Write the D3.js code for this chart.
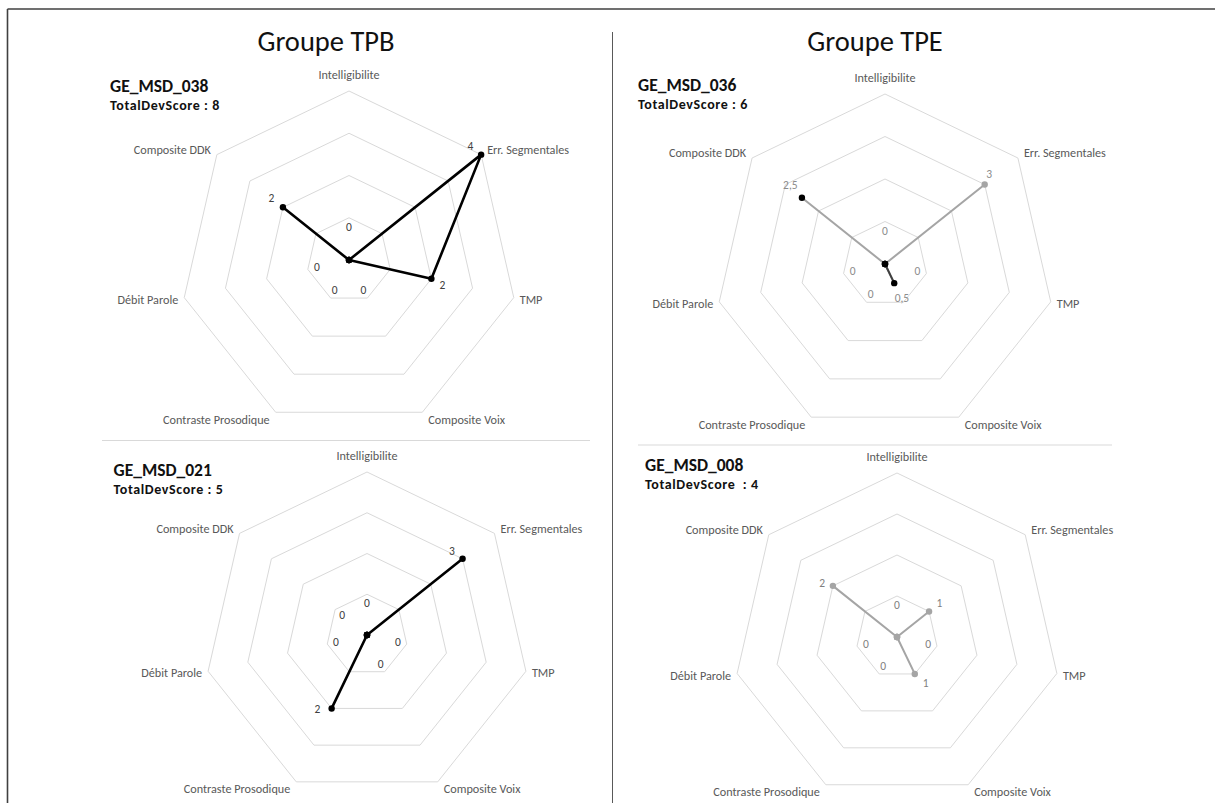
<!DOCTYPE html>
<html>
<head>
<meta charset="utf-8">
<script src="https://cdn.jsdelivr.net/npm/d3@7"></script>
<style>
  body { margin: 0; background: #fff; }
  text { font-family: Carlito, Calibri, Lato, sans-serif; }
</style>
</head>
<body>
<div id="chart"></div>
<script>
// axis names, clockwise from the top
var axes = ["Intelligibilite", "Err. Segmentales", "TMP", "Composite Voix", "Contraste Prosodique", "Débit Parole", "Composite DDK"];
var groups = ["Groupe TPB", "Groupe TPE"];
var subjects = ["GE_MSD_038", "GE_MSD_036", "GE_MSD_021", "GE_MSD_008"];
var scoreLabels = ["TotalDevScore : 8", "TotalDevScore : 6", "TotalDevScore : 5", "TotalDevScore  : 4"];
var values038 = [0, 4, 2, 0, 0, 0, 2];
var values036 = [0, 3, 0, 0.5, 0, 0, 2.5];
var values021 = [0, 3, 0, 0, 2, 0, 0];
var values008 = [0, 1, 0, 1, 0, 0, 2];
var rings = [1, 2, 3, 4];

var W = 1215, H = 803;
var BLACK = "#000", GREY = "#a5a5a5";

// layout / look of each panel
var panels = [
  {values: values038, cx: 349, cy: 260, r: 169, hx: 110, hy: 87, line: BLACK, lw: 2.6, label: "#404040",
   shift: {1: [-10.6, -8.7], 2: [11, 5.7], 6: [-11.6, -9.7]}},
  {values: values036, cx: 885, cy: 264, r: 170, hx: 638, hy: 86, line: GREY, lw: 2, label: "#8c8c8c",
   shift: {1: [4.6, -11], 3: [7.7, 15], 6: [-11.6, -12.3]}, dark: [0, 2, 3, 4, 5, 6], darkSeg: [3]},
  {values: values021, cx: 367, cy: 635, r: 163, hx: 113.5, hy: 471, line: BLACK, lw: 2.6, label: "#404040",
   shift: {1: [-10.7, -7.6], 4: [-14.3, 1]}},
  {values: values008, cx: 897, cy: 637, r: 164, hx: 645, hy: 466, line: GREY, lw: 2, label: "#7f7f7f",
   shift: {1: [10.4, -8.4], 3: [11, 9], 6: [-10.7, -3]}}
];

var fr = d3.formatLocale({decimal: ",", thousands: " ", grouping: [3], currency: ["", " €"]});
var fmt = fr.format(".1~f");

var svg = d3.select("#chart").append("svg").attr("width", W).attr("height", H);
svg.append("rect").attr("width", W).attr("height", H).attr("fill", "#fff");

// frame and dividers
svg.append("line").attr("x1", 7.5).attr("x2", W).attr("y1", 9).attr("y2", 9).attr("stroke", "#404040").attr("stroke-width", 1.6);
svg.append("line").attr("x1", 7.5).attr("x2", 7.5).attr("y1", 9).attr("y2", H).attr("stroke", "#404040").attr("stroke-width", 1.6);
svg.append("line").attr("x1", 612.5).attr("x2", 612.5).attr("y1", 32).attr("y2", H).attr("stroke", "#595959").attr("stroke-width", 1);
svg.append("line").attr("x1", 102).attr("x2", 590).attr("y1", 440.5).attr("y2", 440.5).attr("stroke", "#d9d9d9").attr("stroke-width", 1);
svg.append("line").attr("x1", 638).attr("x2", 1112).attr("y1", 445).attr("y2", 445).attr("stroke", "#d9d9d9").attr("stroke-width", 1);

svg.selectAll(".title").data(groups).enter().append("text")
  .attr("x", function(d, i) { return i == 0 ? 326 : 875; })
  .attr("y", 51)
  .attr("text-anchor", "middle")
  .style("font-size", "28.5px")
  .style("fill", "#111")
  .text(function(d) { return d; });

var angle = d3.scaleLinear().domain([0, axes.length]).range([0, 2 * Math.PI]);

panels.forEach(function(p, k) {
  var g = svg.append("g").attr("transform", "translate(" + p.cx + "," + p.cy + ")");
  var rad = d3.scaleLinear().domain([0, 4]).range([0, p.r]);
  function pt(i, v) {
    var a = angle(i);
    return [rad(v) * Math.sin(a), -rad(v) * Math.cos(a)];
  }
  function isDark(i) { return p.dark && p.dark.indexOf(i) >= 0; }

  // grid rings
  var ring = d3.lineRadial().angle(function(d, i) { return angle(i); }).curve(d3.curveLinearClosed);
  g.selectAll(".ring").data(rings).enter().append("path")
    .attr("d", function(t) { return ring.radius(rad(t))(axes); })
    .attr("fill", "none").attr("stroke", "#d9d9d9").attr("stroke-width", 1);

  // axis labels
  g.selectAll(".axis").data(axes).enter().append("text")
    .attr("x", function(d, i) {
      var v = pt(i, 4), s = Math.sin(angle(i));
      return Math.abs(s) < 0.1 ? v[0] : v[0] + (s > 0 ? 6 : -6);
    })
    .attr("y", function(d, i) {
      var v = pt(i, 4), c = -Math.cos(angle(i));
      return Math.abs(Math.sin(angle(i))) < 0.1 ? v[1] + 16 * c : v[1] + 8 * c;
    })
    .attr("dy", "0.35em")
    .attr("text-anchor", function(d, i) {
      var s = Math.sin(angle(i));
      return Math.abs(s) < 0.1 ? "middle" : (s > 0 ? "start" : "end");
    })
    .style("font-size", "12.2px").style("fill", "#595959")
    .text(function(d) { return d; });

  // series
  var line = d3.lineRadial()
    .angle(function(d, i) { return angle(i); })
    .radius(function(d) { return rad(d); })
    .curve(d3.curveLinearClosed);
  g.append("path").attr("d", line(p.values))
    .attr("fill", "none").attr("stroke", p.line).attr("stroke-width", p.lw).attr("stroke-linejoin", "round");

  (p.darkSeg || []).forEach(function(i) {
    g.append("path").attr("d", d3.line()([pt(i - 1, p.values[i - 1]), pt(i, p.values[i])]))
      .attr("fill", "none").attr("stroke", "#404040").attr("stroke-width", p.lw);
  });

  g.selectAll(".dot").data(p.values).enter().append("circle")
    .attr("cx", function(d, i) { return pt(i, d)[0]; })
    .attr("cy", function(d, i) { return pt(i, d)[1]; })
    .attr("r", 3.2)
    .attr("fill", function(d, i) { return isDark(i) ? BLACK : p.line; });

  // data labels
  g.selectAll(".val").data(p.values).enter().append("text")
    .attr("x", function(d, i) {
      if (d == 0) return pt(i, 0.78)[0];
      var s = p.shift[i] || [13 * Math.sin(angle(i)), 0];
      return pt(i, d)[0] + s[0];
    })
    .attr("y", function(d, i) {
      if (d == 0) return pt(i, 0.78)[1];
      var s = p.shift[i] || [0, -13 * Math.cos(angle(i))];
      return pt(i, d)[1] + s[1];
    })
    .attr("dy", "0.35em")
    .attr("text-anchor", "middle")
    .style("font-size", "11.5px").style("fill", p.label)
    .text(function(d) { return fmt(d); });

  // subject header
  svg.append("text").attr("x", p.hx).attr("y", p.hy - 1.5).attr("dy", "0.35em")
    .style("font-size", "17.5px").style("font-weight", "bold").style("fill", "#111")
    .text(subjects[k]);
  svg.append("text").attr("x", p.hx).attr("y", p.hy + 18).attr("dy", "0.35em")
    .style("font-size", "14px").style("font-weight", "bold").style("fill", "#111")
    .style("letter-spacing", "0.6px")
    .style("white-space", "pre").attr("xml:space", "preserve")
    .text(scoreLabels[k]);
});
</script>
</body>
</html>
